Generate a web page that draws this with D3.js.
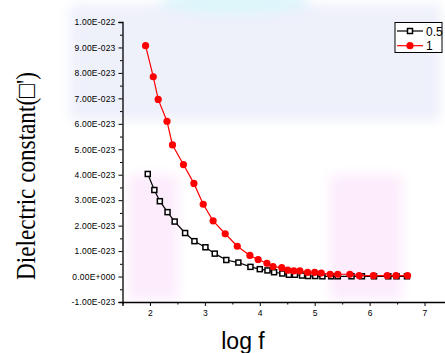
<!DOCTYPE html>
<html>
<head>
<meta charset="utf-8">
<script src="https://cdn.jsdelivr.net/npm/d3@7"></script>
<style>
  body { margin: 0; background: #fff; }
  svg { display: block; }
</style>
</head>
<body>
<script>
// series 0.5 (black squares)
const x05 = [1.96, 2.08, 2.18, 2.32, 2.45, 2.64, 2.81, 3.01, 3.18, 3.39, 3.61, 3.83, 4.00, 4.14, 4.26,
  4.41, 4.53, 4.64, 4.77, 4.88, 5.01, 5.14, 5.30, 5.42, 5.67, 5.86, 6.08, 6.34, 6.49, 6.68];
const y05 = [4.03, 3.40, 2.96, 2.53, 2.16, 1.71, 1.39, 1.15, 0.90, 0.65, 0.55, 0.38, 0.29, 0.24, 0.17,
  0.12, 0.07, 0.07, 0.04, 0.02, 0.02, 0.01, 0.01, 0.01, 0.01, 0.01, 0.01, 0.01, 0.01, 0.01];
// series 1 (red circles)
const x1 = [1.92, 2.06, 2.15, 2.31, 2.41, 2.61, 2.80, 2.97, 3.15, 3.37, 3.59, 3.82, 3.97, 4.13, 4.24,
  4.40, 4.51, 4.62, 4.73, 4.87, 5.00, 5.12, 5.28, 5.42, 5.64, 5.81, 6.07, 6.32, 6.48, 6.69];
const y1 = [9.07, 7.85, 6.96, 6.10, 5.17, 4.40, 3.66, 2.84, 2.19, 1.68, 1.19, 0.83, 0.67, 0.52, 0.39,
  0.35, 0.25, 0.22, 0.22, 0.16, 0.16, 0.14, 0.09, 0.09, 0.09, 0.04, 0.04, 0.04, 0.04, 0.04];
// values above are in units of 1E-23
const xTicks = [2, 3, 4, 5, 6, 7];
const yTicks = [-1, 0, 1, 2, 3, 4, 5, 6, 7, 8, 9, 10];
const yTickLabels = ["-1.00E-023", "0.00E+000", "1.00E-023", "2.00E-023", "3.00E-023", "4.00E-023",
  "5.00E-023", "6.00E-023", "7.00E-023", "8.00E-023", "9.00E-023", "1.00E-022"];
const legendNames = ["0.5", "1"];

const W = 445, H = 353;
const svg = d3.select("body").append("svg").attr("width", W).attr("height", H);

// faint watermark background
const defs = svg.append("defs");
defs.append("filter").attr("id", "blur").append("feGaussianBlur").attr("stdDeviation", 6);
const bg = svg.append("g").attr("filter", "url(#blur)");
bg.append("rect").attr("x", 70).attr("y", 5).attr("width", 370).attr("height", 115)
  .attr("fill", "#eef0fa");
bg.append("ellipse").attr("cx", 235).attr("cy", 2).attr("rx", 75).attr("ry", 12)
  .attr("fill", "#dcf6fa");
bg.append("rect").attr("x", 128).attr("y", 175).attr("width", 50).attr("height", 125)
  .attr("fill", "#fcecfc");
bg.append("rect").attr("x", 330).attr("y", 175).attr("width", 72).attr("height", 125)
  .attr("fill", "#fcecfc");
svg.append("rect").attr("x", 0).attr("y", 22).attr("width", 58).attr("height", 331).attr("fill", "#fff");

const x = d3.scaleLinear().domain([1.5, 7.5]).range([122.5, 452]);
const y = d3.scaleLinear().domain([-1, 10]).range([302, 22]);

// y axis
const yAxis = svg.append("g").attr("transform", "translate(122.5,0)")
  .call(d3.axisLeft(y).tickValues(yTicks).tickSize(4).tickPadding(3)
    .tickFormat((d, i) => yTickLabels[i]));
svg.append("g").attr("transform", "translate(122.5,0)")
  .call(d3.axisLeft(y).tickValues(d3.range(-0.5, 10, 1)).tickSize(2.5).tickFormat(""))
  .select(".domain").remove();

// x axis
svg.append("g").attr("transform", "translate(0,302)")
  .call(d3.axisBottom(x).tickValues(xTicks).tickSize(4).tickPadding(4).tickFormat(d3.format("d")));
svg.append("g").attr("transform", "translate(0,302)")
  .call(d3.axisBottom(x).tickValues([1.5, 2.5, 3.5, 4.5, 5.5, 6.5, 7.5]).tickSize(2.5).tickFormat(""))
  .select(".domain").remove();

svg.selectAll(".domain").attr("stroke", "#000").attr("stroke-width", 1.3);
svg.selectAll(".tick line").attr("stroke", "#000").attr("stroke-width", 1);
svg.selectAll(".tick text").attr("fill", "#000")
  .style("font-family", "Liberation Sans, Arial, sans-serif").style("font-size", "8.5px")
  .style("letter-spacing", "0.2px");

const line = d3.line().x(d => x(d[0])).y(d => y(d[1]));
const s05 = x05.map((v, i) => [v, y05[i]]);
const s1 = x1.map((v, i) => [v, y1[i]]);

svg.append("path").datum(s05).attr("d", line).attr("fill", "none")
  .attr("stroke", "#000").attr("stroke-width", 1.2);
svg.selectAll(".sq").data(s05).enter().append("rect")
  .attr("x", d => x(d[0]) - 2.5).attr("y", d => y(d[1]) - 2.5)
  .attr("width", 5).attr("height", 5)
  .attr("fill", "#fff").attr("stroke", "#000").attr("stroke-width", 1.5);

svg.append("path").datum(s1).attr("d", line).attr("fill", "none")
  .attr("stroke", "#f00").attr("stroke-width", 1.2);
svg.selectAll(".ci").data(s1).enter().append("circle")
  .attr("cx", d => x(d[0])).attr("cy", d => y(d[1])).attr("r", 3.6)
  .attr("fill", "#f00");

// legend
const lg = svg.append("g");
lg.append("rect").attr("x", 395).attr("y", 22.5).attr("width", 47).attr("height", 30)
  .attr("fill", "#fff").attr("stroke", "#000").attr("stroke-width", 1);
legendNames.forEach((name, i) => {
  const ly = 31 + i * 14.7;
  const col = i === 0 ? "#000" : "#f00";
  lg.append("line").attr("x1", 397).attr("x2", 423).attr("y1", ly).attr("y2", ly)
    .attr("stroke", col).attr("stroke-width", 1.2);
  if (i === 0) {
    lg.append("rect").attr("x", 407.5).attr("y", ly - 2.5).attr("width", 5).attr("height", 5)
      .attr("fill", "#fff").attr("stroke", "#000").attr("stroke-width", 1.5);
  } else {
    lg.append("circle").attr("cx", 410).attr("cy", ly).attr("r", 3.6).attr("fill", "#f00");
  }
  lg.append("text").attr("x", 426).attr("y", ly + 4.5).text(name)
    .style("font-family", "Liberation Sans, Arial, sans-serif").style("font-size", "12px");
});

// axis titles
svg.append("text").attr("x", 243).attr("y", 349).attr("text-anchor", "middle")
  .style("font-family", "Liberation Sans, Arial, sans-serif").style("font-size", "23px")
  .text("log f");
svg.append("text").attr("transform", "translate(35,176) rotate(-90)").attr("text-anchor", "middle")
  .attr("textLength", 208).attr("lengthAdjust", "spacingAndGlyphs")
  .style("font-family", "Liberation Serif, Times New Roman, serif").style("font-size", "27px")
  .text("Dielectric constant(\u25A1')");
</script>
</body>
</html>
